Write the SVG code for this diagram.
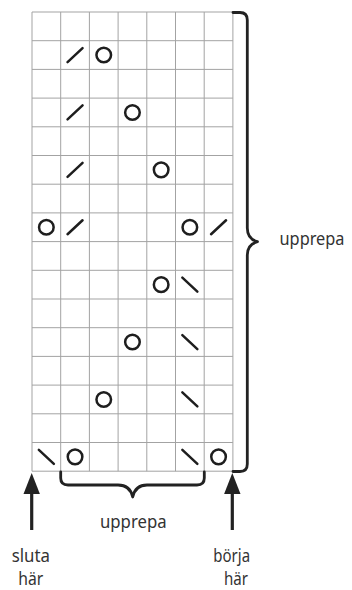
<svg xmlns="http://www.w3.org/2000/svg" xmlns:xlink="http://www.w3.org/1999/xlink" width="352" height="590" viewBox="0 0 352 590">
<style>
.grid line{stroke:#a3a3a3;stroke-width:1}
.sym{fill:none;stroke:#1e1e1e;stroke-width:2.5;stroke-linecap:round}
.brace{fill:none;stroke:#222;stroke-width:2.8;stroke-linecap:round;stroke-linejoin:round}
.arrow line{stroke:#222;stroke-width:3.2}
.arrow polygon{fill:#222}
.lbl{font-family:"Noto Sans","Open Sans","Liberation Sans",sans-serif;font-size:18px;fill:#333;text-anchor:middle}
</style>
<defs>
<circle id="o" r="7.3" class="sym"/>
<line id="sl" x1="-7.5" y1="7" x2="7.5" y2="-7" class="sym"/>
<line id="bs" x1="-7.5" y1="-7" x2="7.5" y2="7" class="sym"/>
</defs>
<rect x="0" y="0" width="352" height="590" fill="#fff"/>
<g id="grid" class="grid">
<line x1="32" y1="12" x2="32" y2="471.2"/>
<line x1="60.7" y1="12" x2="60.7" y2="471.2"/>
<line x1="89.4" y1="12" x2="89.4" y2="471.2"/>
<line x1="118.1" y1="12" x2="118.1" y2="471.2"/>
<line x1="146.8" y1="12" x2="146.8" y2="471.2"/>
<line x1="175.5" y1="12" x2="175.5" y2="471.2"/>
<line x1="204.2" y1="12" x2="204.2" y2="471.2"/>
<line x1="232.9" y1="12" x2="232.9" y2="471.2"/>
<line x1="32" y1="12" x2="232.9" y2="12"/>
<line x1="32" y1="40.7" x2="232.9" y2="40.7"/>
<line x1="32" y1="69.4" x2="232.9" y2="69.4"/>
<line x1="32" y1="98.1" x2="232.9" y2="98.1"/>
<line x1="32" y1="126.8" x2="232.9" y2="126.8"/>
<line x1="32" y1="155.5" x2="232.9" y2="155.5"/>
<line x1="32" y1="184.2" x2="232.9" y2="184.2"/>
<line x1="32" y1="212.9" x2="232.9" y2="212.9"/>
<line x1="32" y1="241.6" x2="232.9" y2="241.6"/>
<line x1="32" y1="270.3" x2="232.9" y2="270.3"/>
<line x1="32" y1="299" x2="232.9" y2="299"/>
<line x1="32" y1="327.7" x2="232.9" y2="327.7"/>
<line x1="32" y1="356.4" x2="232.9" y2="356.4"/>
<line x1="32" y1="385.1" x2="232.9" y2="385.1"/>
<line x1="32" y1="413.8" x2="232.9" y2="413.8"/>
<line x1="32" y1="442.5" x2="232.9" y2="442.5"/>
<line x1="32" y1="471.2" x2="232.9" y2="471.2"/>
</g>
<g id="symbols">
<use xlink:href="#sl" x="75.05" y="55.05"/><use xlink:href="#o" x="103.75" y="55.05"/>
<use xlink:href="#sl" x="75.05" y="112.45"/><use xlink:href="#o" x="132.45" y="112.45"/>
<use xlink:href="#sl" x="75.05" y="169.85"/><use xlink:href="#o" x="161.15" y="169.85"/>
<use xlink:href="#o" x="46.35" y="227.25"/><use xlink:href="#sl" x="75.05" y="227.25"/><use xlink:href="#o" x="189.85" y="227.25"/><use xlink:href="#sl" x="218.55" y="227.25"/>
<use xlink:href="#o" x="161.15" y="284.65"/><use xlink:href="#bs" x="189.85" y="284.65"/>
<use xlink:href="#o" x="132.45" y="342.05"/><use xlink:href="#bs" x="189.85" y="342.05"/>
<use xlink:href="#o" x="103.75" y="399.45"/><use xlink:href="#bs" x="189.85" y="399.45"/>
<use xlink:href="#bs" x="46.35" y="456.85"/><use xlink:href="#o" x="75.05" y="456.85"/><use xlink:href="#bs" x="189.85" y="456.85"/><use xlink:href="#o" x="218.55" y="456.85"/>
</g>
<g id="connectors">
<path id="brace-right" class="brace" d="M233,12.5 H240 Q247.3,12.5 247.3,20 V228 Q247.3,239 257.5,241.7 Q247.3,244.5 247.3,255 V464 Q247.3,471.5 240,471.5 H233"/>
<path id="brace-bottom" class="brace" d="M60.7,472 V478 Q60.7,485 68,485 H118 Q130,485 132.7,497 Q135.4,485 147,485 H197 Q204.3,485 204.3,478 V472"/>
<g id="arrow-left" class="arrow"><line x1="31.7" y1="490" x2="31.7" y2="530"/><polygon points="31.7,473 23.5,494 39.9,494"/></g>
<g id="arrow-right" class="arrow"><line x1="232.3" y1="490" x2="232.3" y2="530"/><polygon points="232.3,473 224.1,494 240.5,494"/></g>
</g>
<g id="labels">
<text class="lbl" x="312" y="245" textLength="65" lengthAdjust="spacingAndGlyphs">upprepa</text>
<text class="lbl" x="133.3" y="527.7" textLength="66.7" lengthAdjust="spacingAndGlyphs">upprepa</text>
<text class="lbl" x="30.8" y="561.5" textLength="38.3" lengthAdjust="spacingAndGlyphs">sluta</text>
<text class="lbl" x="30.8" y="585" textLength="25" lengthAdjust="spacingAndGlyphs">här</text>
<text class="lbl" x="231.7" y="561.5" textLength="36.7" lengthAdjust="spacingAndGlyphs">börja</text>
<text class="lbl" x="236" y="585" textLength="24" lengthAdjust="spacingAndGlyphs">här</text>
</g>
</svg>
